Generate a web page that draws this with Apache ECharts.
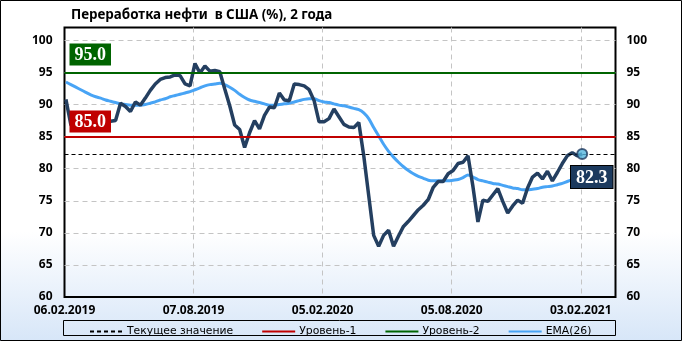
<!DOCTYPE html>
<html><head><meta charset="utf-8">
<script src="https://cdn.jsdelivr.net/npm/echarts@6/dist/echarts.min.js"></script>
<style>html,body{margin:0;padding:0;background:#fff}#c{width:682px;height:341px}</style>
</head><body><div id="c"></div>
<script>
const chartTitle = 'Переработка нефти  в США (%), 2 года';
const axisStartDate = '06.02.2019';
const firstDataDate = '08.02.2019';
const xTickLabels = ['06.02.2019', '07.08.2019', '05.02.2020', '05.08.2020', '03.02.2021'];
const yTickValues = [60, 65, 70, 75, 80, 85, 90, 95, 100];
const legendNames = ['Текущее значение', 'Уровень-1', 'Уровень-2', 'EMA(26)'];
const level1 = 85.0;
const level2 = 95.0;

// weekly refinery utilisation (%)
const refinery = [
  90.8, 86.8, 86.5, 86.9, 87.3, 87.0, 87.5, 87.2, 87.6, 87.4,
  87.5, 90.2, 89.7, 88.9, 90.4, 89.9, 91.0, 92.2, 93.2, 93.9,
  94.2, 94.3, 94.6, 94.5, 93.2, 92.9, 96.4, 94.9, 96.0, 95.2,
  95.3, 95.1, 92.4, 89.8, 86.8, 86.1, 83.3, 85.6, 87.5, 86.2,
  88.3, 89.6, 89.5, 91.8, 90.7, 90.6, 93.2, 93.1, 92.9, 92.3,
  90.6, 87.3, 87.3, 87.8, 89.3, 88.1, 86.9, 86.5, 86.4, 87.2,
  82.0, 75.8, 69.6, 67.9, 69.6, 70.4, 67.9, 69.5, 71.0, 71.8,
  72.7, 73.6, 74.3, 75.2, 77.1, 78.0, 78.0, 79.2, 79.7, 80.8,
  81.0, 82.0, 77.2, 71.7, 75.1, 74.9, 75.9, 76.9, 74.9, 73.1,
  74.2, 75.1, 74.6, 77.0, 78.7, 79.3, 78.4, 79.6, 78.1, 79.4,
  80.8, 82.0, 82.5, 82.0, 82.3
];
// EMA(26) as drawn
const ema26 = [
  93.5, 93.1, 92.7, 92.3, 91.9, 91.5, 91.2, 91.0, 90.7, 90.5,
  90.3, 90.1, 90.0, 89.9, 89.9, 89.9, 90.0, 90.2, 90.4, 90.7,
  90.9, 91.2, 91.4, 91.6, 91.8, 92.0, 92.3, 92.6, 92.9, 93.1,
  93.2, 93.3, 93.1, 92.7, 92.2, 91.6, 91.1, 90.7, 90.5, 90.3,
  90.1, 89.9, 89.9, 90.0, 90.1, 90.2, 90.4, 90.6, 90.8, 90.9,
  90.9, 90.6, 90.4, 90.3, 90.1, 89.9, 89.8, 89.6, 89.4, 89.2,
  88.7, 87.8, 86.4, 85.1, 83.8, 82.7, 81.8, 81.0, 80.3, 79.7,
  79.2, 78.8, 78.5, 78.2, 78.1, 78.1, 78.1, 78.1, 78.2, 78.3,
  78.6, 79.0, 78.7, 78.3, 78.1, 77.9, 77.7, 77.6, 77.4, 77.2,
  77.0, 76.9, 76.7, 76.7, 76.8, 76.9, 77.1, 77.2, 77.3, 77.5,
  77.7, 78.0, 78.3, 78.5, 78.8
];

const DAY = 86400000;
function parseD(s) { const p = s.split('.').map(Number); return Date.UTC(p[2], p[1] - 1, p[0]); }
const t0 = parseD(axisStartDate);
const tickDays = xTickLabels.map(s => Math.round((parseD(s) - t0) / DAY));
const tickStep = tickDays[1] - tickDays[0];
const firstDay = Math.round((parseD(firstDataDate) - t0) / DAY);
const xDays = refinery.map((_, i) => firstDay + 7 * i);
const xMax = 777;
const yMin = yTickValues[0], yMax = 102, yStep = yTickValues[1] - yTickValues[0];
const lastIdx = refinery.length - 1;
const current = refinery[lastIdx];

const mainData = refinery.map((v, i) => [xDays[i], v]);
const emaData = ema26.map((v, i) => [xDays[i], v]);

const boxLabel = (bg, dist, pos) => ({
  show: true, position: pos, distance: dist,
  formatter: p => Number(p.value).toFixed(1),
  color: '#fff', backgroundColor: bg,
  fontFamily: 'Liberation Serif', fontWeight: 'bold', fontSize: 18,
  padding: [2, 5, 0, 5], lineHeight: 20
});

const yLabel = {
  fontFamily: 'Noto Sans', fontWeight: 'bold', fontSize: 12, color: '#000',
  formatter: v => (yTickValues.indexOf(v) >= 0 ? String(v) : '')
};

const chart = echarts.init(document.getElementById('c'), null, { renderer: 'canvas' });
chart.setOption({
  animation: false,
  backgroundColor: {
    type: 'linear', x: 0, y: 0, x2: 0, y2: 1,
    colorStops: [{ offset: 0, color: '#ffffff' }, { offset: 0.68, color: '#ffffff' }, { offset: 1, color: '#d7e6f8' }]
  },
  title: {
    text: chartTitle, left: 66, top: 4,
    textStyle: { fontFamily: 'Noto Sans', fontWeight: 'bold', fontSize: 13.4, color: '#000' }
  },
  graphic: [
    { type: 'rect', z: 100, silent: true, shape: { x: 0.5, y: 0.5, width: 681, height: 340 }, style: { fill: 'none', stroke: '#000', lineWidth: 1 } },
    { type: 'rect', z: 100, silent: true, shape: { x: 63.5, y: 320.5, width: 552, height: 15 }, style: { fill: 'none', stroke: '#000', lineWidth: 1 } }
  ],
  legend: {
    data: legendNames, left: 84, top: 321, itemGap: 28, itemWidth: 33, itemHeight: 10,
    itemStyle: { opacity: 0, borderWidth: 0 },
    textStyle: { fontFamily: 'DejaVu Sans', fontSize: 10.8, color: '#000', padding: [0, 0, 0, -1] }
  },
  grid: { left: 64.5, right: 66.5, top: 27.5, bottom: 44, show: true, borderColor: '#000', borderWidth: 2, backgroundColor: 'transparent' },
  xAxis: {
    type: 'value', min: 0, max: xMax, interval: tickStep,
    axisLine: { show: false }, axisTick: { show: false },
    axisLabel: {
      margin: 8, fontFamily: 'Noto Sans', fontWeight: 'bold', fontSize: 12, color: '#000',
      showMaxLabel: true,
      formatter: v => { const i = tickDays.indexOf(v); return i >= 0 ? xTickLabels[i] : ''; }
    },
    splitLine: { show: true, showMinLine: false, showMaxLine: false, lineStyle: { color: '#c4c4c4', type: [5, 4], width: 1 } }
  },
  yAxis: [
    {
      type: 'value', position: 'left', min: yMin, max: yMax, interval: yStep,
      axisLine: { show: false }, axisTick: { show: false },
      axisLabel: Object.assign({ margin: 12 }, yLabel),
      splitLine: { show: true, showMinLine: false, showMaxLine: false, lineStyle: { color: '#c4c4c4', type: [5, 4], width: 1 } }
    },
    {
      type: 'value', position: 'right', min: yMin, max: yMax, interval: yStep,
      axisLine: { show: false }, axisTick: { show: false },
      axisLabel: Object.assign({ margin: 11 }, yLabel),
      splitLine: { show: false }
    }
  ],
  series: [
    {
      name: 'Переработка', type: 'line', data: mainData, z: 4,
      symbol: 'none', lineStyle: { color: '#243f60', width: 3.5 }, silent: true
    },
    {
      name: 'EMA(26)', type: 'line', data: emaData, z: 3, smooth: 0.3,
      symbol: 'none', lineStyle: { color: '#48a4f5', width: 3 }, itemStyle: { color: '#48a4f5' }, silent: true
    },
    {
      name: 'Текущее значение', type: 'line', data: [], z: 6, symbol: 'none',
      lineStyle: { color: '#000', width: 1, type: [4, 3] }, itemStyle: { color: '#000' },
      markLine: {
        silent: true, symbol: 'none', animation: false,
        lineStyle: { color: '#000', width: 1, type: [4, 3] },
        label: Object.assign(boxLabel('#1c3a5e', [3, 12], 'insideEndBottom'), { borderColor: '#000', borderWidth: 1 }),
        data: [{ yAxis: current }]
      }
    },
    {
      name: 'Уровень-1', type: 'line', data: [], z: 6, symbol: 'none',
      lineStyle: { color: '#c00000', width: 2 }, itemStyle: { color: '#c00000' },
      markLine: {
        silent: true, symbol: 'none', animation: false,
        lineStyle: { color: '#c00000', width: 2, type: 'solid' },
        label: boxLabel('#c00000', [5, 4], 'insideStartTop'),
        data: [{ yAxis: level1 }]
      }
    },
    {
      name: 'Уровень-2', type: 'line', data: [], z: 6, symbol: 'none',
      lineStyle: { color: '#006400', width: 2 }, itemStyle: { color: '#006400' },
      markLine: {
        silent: true, symbol: 'none', animation: false,
        lineStyle: { color: '#006400', width: 2, type: 'solid' },
        label: boxLabel('#006400', [5, 7], 'insideStartTop'),
        data: [{ yAxis: level2 }]
      }
    },
    {
      name: 'Последнее', type: 'scatter', z: 7, silent: true,
      data: [[xDays[lastIdx], current]], symbol: 'circle', symbolSize: 10,
      itemStyle: { color: '#55b6de', borderColor: '#1f3a5f', borderWidth: 2 }
    }
  ]
});
</script></body></html>
